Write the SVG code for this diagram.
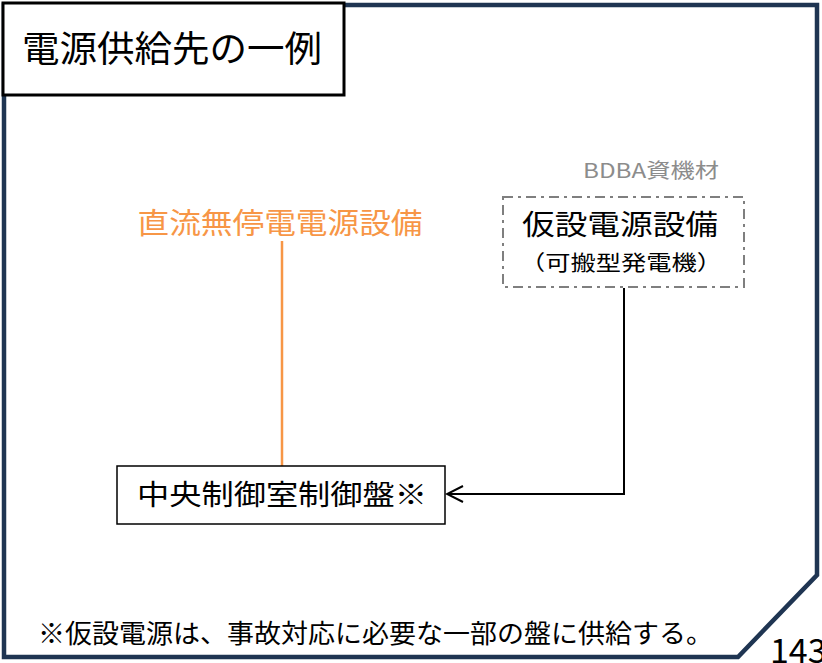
<svg xmlns="http://www.w3.org/2000/svg" width="822" height="663" viewBox="0 0 822 663">
<style>
text{font-family:"Noto Sans CJK JP","Noto Sans",sans-serif;}
.blk{fill:#000;}
.c{text-anchor:middle;}
</style>
<defs>
<marker id="arr" viewBox="0 0 20 20" refX="18" refY="10" markerWidth="20" markerHeight="20" markerUnits="userSpaceOnUse" orient="auto">
<path d="M2,2 L18,10 L2,18" fill="none" stroke="#000" stroke-width="2"/>
</marker>
</defs>
<rect width="822" height="663" fill="#fff"/>
<g id="frame">
<path d="M4,5 L817,5 L817,575 L738,657 L4,657 Z" fill="#fff" stroke="#1F3552" stroke-width="4.5"/>
</g>
<g id="title">
<rect x="3" y="3" width="341" height="92" fill="#fff" stroke="#000" stroke-width="3"/>
<text x="22" y="62" font-size="36" textLength="300" lengthAdjust="spacingAndGlyphs" class="blk">電源供給先の一例</text>
</g>
<g id="connectors">
<line x1="282" y1="241" x2="282" y2="466" stroke="#F79646" stroke-width="2.5"/>
<path d="M624,288 L624,494 L447,494" fill="none" stroke="#000" stroke-width="2" marker-end="url(#arr)"/>
</g>
<g id="dc-ups">
<text x="280" y="234" font-size="29" textLength="285" lengthAdjust="spacingAndGlyphs" class="c" fill="#F79646">直流無停電電源設備</text>
</g>
<g id="temp-power">
<text x="651" y="178" font-size="20" textLength="136" lengthAdjust="spacingAndGlyphs" class="c" fill="#8C8C8C">BDBA資機材</text>
<rect x="503" y="197" width="241" height="90" fill="none" stroke="#7F7F7F" stroke-width="2" stroke-dasharray="10,5,3,5"/>
<text x="620" y="235" font-size="28" textLength="196" lengthAdjust="spacingAndGlyphs" class="c blk">仮設電源設備</text>
<text x="621" y="270" font-size="21" textLength="202" lengthAdjust="spacingAndGlyphs" class="c blk">（可搬型発電機）</text>
</g>
<g id="control-panel">
<rect x="117" y="466" width="328" height="58" fill="#fff" stroke="#000" stroke-width="1.5"/>
<text x="282" y="505" font-size="28" textLength="290" lengthAdjust="spacingAndGlyphs" class="c blk">中央制御室制御盤※</text>
</g>
<g id="note">
<text x="38" y="643" font-size="26" textLength="675" lengthAdjust="spacingAndGlyphs" class="blk">※仮設電源は、事故対応に必要な一部の盤に供給する。</text>
<text x="770" y="663" font-size="34" font-family="Liberation Sans,sans-serif" class="blk">143</text>
</g>
</svg>
